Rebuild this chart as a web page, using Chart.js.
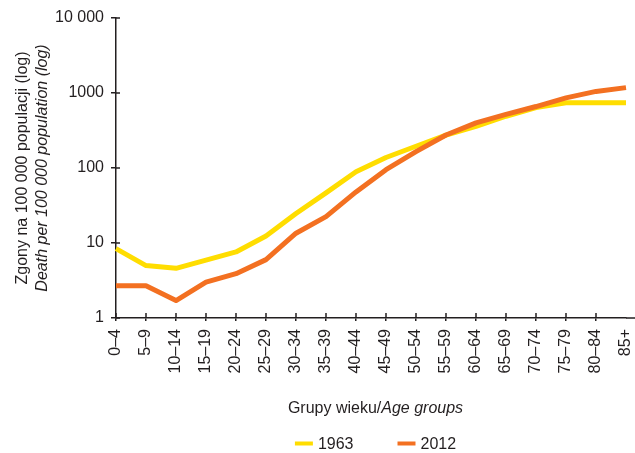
<!DOCTYPE html>
<html><head><meta charset="utf-8">
<script src="https://cdn.jsdelivr.net/npm/chart.js@4/dist/chart.umd.min.js"></script>
<style>html,body{margin:0;padding:0;background:#fff}#wrap{width:635px;height:453px;position:relative}</style>
</head><body><div id="wrap"><canvas id="c" width="635" height="453"></canvas></div>
<script>
const categories = ['0–4','5–9','10–14','15–19','20–24','25–29','30–34','35–39','40–44','45–49','50–54','55–59','60–64','65–69','70–74','75–79','80–84','85+'];
const series1963 = [8.4, 5.0, 4.6, 5.9, 7.6, 12.4, 24.7, 46.6, 89, 138, 195, 275, 360, 490, 640, 740, 740, 740];
const series2012 = [2.7, 2.7, 1.71, 3.0, 3.9, 6.0, 13.5, 22.5, 48, 95, 165, 275, 400, 520, 660, 860, 1050, 1180];
const seriesNames = ['1963', '2012'];
const yTickValues = [1, 10, 100, 1000, 10000];
const yTickLabels = ['1', '10', '100', '1000', '10 000'];
const yTitleLines = ['Zgony na 100 000 populacji (log)', 'Death per 100 000 population (log)'];
const xTitleParts = ['Grupy wieku/', 'Age groups'];

const INK = '#231f20';
const COLORS = ['#ffdd00', '#f37021'];
const FONT = '"Liberation Sans", Arial, sans-serif';

const decor = {
  id: 'decor',
  afterDraw(chart) {
    const ctx = chart.ctx;
    const a = chart.chartArea;
    const xs = chart.scales.x, ys = chart.scales.y;
    ctx.save();
    ctx.strokeStyle = INK;
    ctx.lineWidth = 1.5;
    ctx.beginPath();
    yTickValues.forEach(v => {
      const p = ys.getPixelForValue(v);
      ctx.moveTo(a.left, p); ctx.lineTo(a.left + 4, p);
    });
    categories.forEach((c, i) => {
      if (i === categories.length - 1) return;
      const p = xs.getPixelForValue(i);
      ctx.moveTo(p, a.bottom); ctx.lineTo(p, a.bottom - 5);
    });
    ctx.moveTo(a.right, a.bottom); ctx.lineTo(chart.width, a.bottom);
    ctx.stroke();

    ctx.fillStyle = INK;
    const cy = (a.top + a.bottom) / 2;
    [[27, 'normal', yTitleLines[0]], [46.5, 'italic', yTitleLines[1]]].forEach(([x, st, t]) => {
      ctx.save();
      ctx.translate(x, cy);
      ctx.rotate(-Math.PI / 2);
      ctx.font = st + ' 16px ' + FONT;
      ctx.textAlign = 'center';
      ctx.textBaseline = 'alphabetic';
      ctx.fillText(t, 0, 0);
      ctx.restore();
    });
    const cx = (a.left + chart.width) / 2;
    ctx.textBaseline = 'alphabetic';
    ctx.textAlign = 'left';
    ctx.font = 'normal 16px ' + FONT;
    const w1 = ctx.measureText(xTitleParts[0]).width;
    ctx.font = 'italic 16px ' + FONT;
    const w2 = ctx.measureText(xTitleParts[1]).width;
    let x0 = cx - (w1 + w2) / 2;
    ctx.font = 'normal 16px ' + FONT;
    ctx.fillText(xTitleParts[0], x0, 413);
    ctx.font = 'italic 16px ' + FONT;
    ctx.fillText(xTitleParts[1], x0 + w1, 413);
    ctx.font = 'normal 16px ' + FONT;
    const lw = 18, gap = 5, itemGap = 44;
    const widths = seriesNames.map(n => lw + gap + ctx.measureText(n).width);
    const total = widths.reduce((s, w) => s + w, 0) + itemGap * (seriesNames.length - 1);
    let lx = cx - total / 2;
    seriesNames.forEach((n, i) => {
      ctx.strokeStyle = COLORS[i];
      ctx.lineWidth = 4;
      ctx.beginPath();
      ctx.moveTo(lx, 443.5); ctx.lineTo(lx + lw, 443.5);
      ctx.stroke();
      ctx.fillStyle = INK;
      ctx.fillText(n, lx + lw + gap, 448.5);
      lx += widths[i] + itemGap;
    });
    ctx.restore();
  }
};

new Chart(document.getElementById('c'), {
  type: 'line',
  data: {
    labels: categories,
    datasets: [
      { label: seriesNames[0], data: series1963, borderColor: COLORS[0], backgroundColor: COLORS[0], borderWidth: 5, pointRadius: 0, tension: 0, borderJoinStyle: 'round', order: 1 },
      { label: seriesNames[1], data: series2012, borderColor: COLORS[1], backgroundColor: COLORS[1], borderWidth: 5, pointRadius: 0, tension: 0, borderJoinStyle: 'round', order: 0 }
    ]
  },
  options: {
    responsive: false,
    animation: false,
    devicePixelRatio: 1,
    layout: { padding: { top: 18, left: 0, right: 0, bottom: 0 } },
    plugins: { legend: { display: false }, tooltip: { enabled: false } },
    scales: {
      x: {
        type: 'category',
        offset: false,
        border: { color: INK, width: 1.5 },
        grid: {
          drawOnChartArea: false, drawTicks: true, tickLength: 3,
          color: c => c.index === categories.length - 1 ? 'rgba(0,0,0,0)' : INK,
          lineWidth: 1.5
        },
        ticks: { color: INK, font: { family: FONT, size: 16 }, minRotation: 90, maxRotation: 90, padding: 8, autoSkip: false },
        afterFit: s => { s.height = 135; s.paddingRight = 9; s.paddingLeft = 0; }
      },
      y: {
        type: 'logarithmic',
        min: 1, max: 10000,
        border: { color: INK, width: 1.5 },
        grid: { drawOnChartArea: false, drawTicks: true, tickLength: 5, color: INK, lineWidth: 1.5 },
        ticks: {
          color: INK, font: { family: FONT, size: 16 }, padding: 7,
          callback: v => { const i = yTickValues.indexOf(v); return i >= 0 ? yTickLabels[i] : null; }
        },
        afterBuildTicks: s => { s.ticks = yTickValues.map(v => ({ value: v })); },
        afterFit: s => { s.width = 116; }
      }
    }
  },
  plugins: [decor]
});
</script>
</body></html>
